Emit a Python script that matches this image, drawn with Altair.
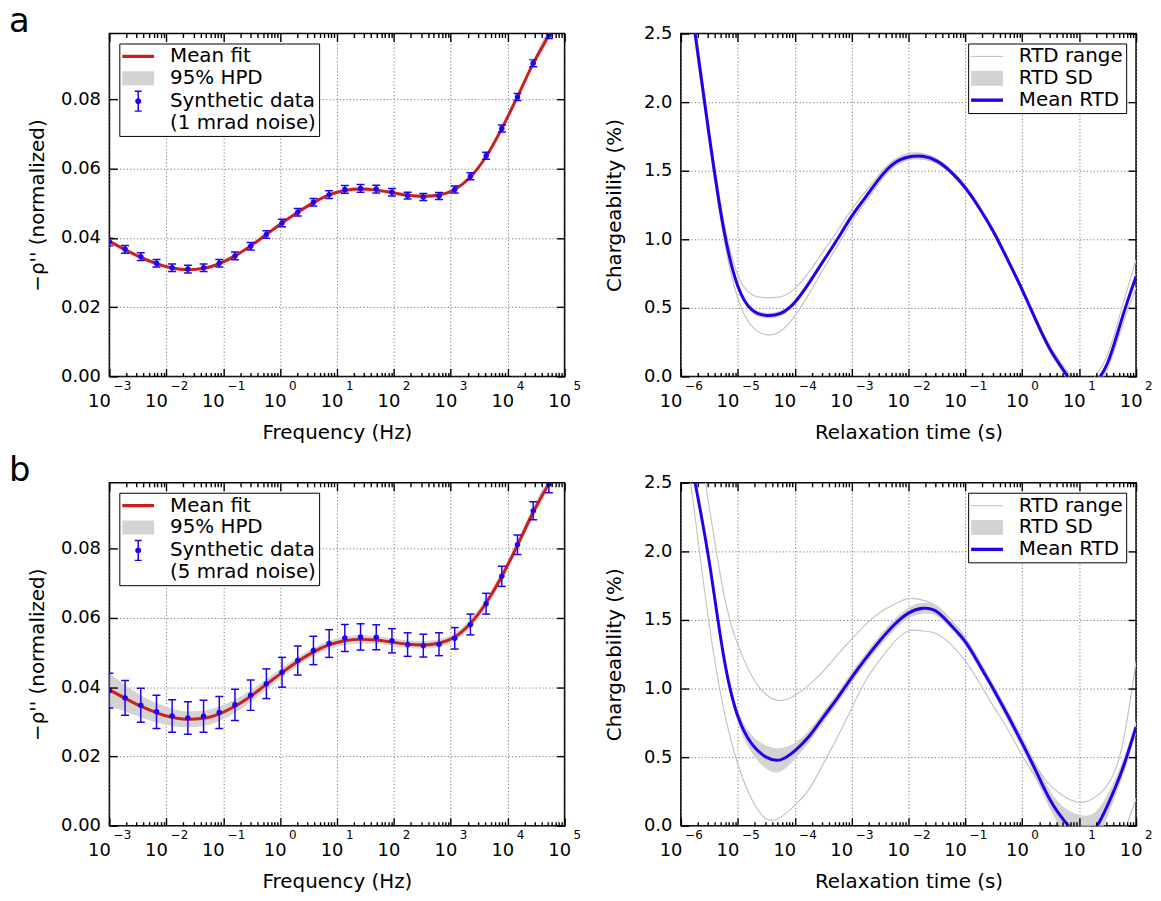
import altair as alt
import pandas as pd

FONT = "DejaVu Sans"
RED = "#cc2020"
BLUE = "#2200ee"
BAND = "#d3d3d3"
RGRAY = "#c4c4c4"

# ---------------- left panels: frequency domain ----------------
# log10 of the measurement frequencies (Hz)
freq_exp = [-3.000, -2.724, -2.448, -2.172, -1.897, -1.621, -1.345, -1.069, -0.793, -0.517,
            -0.241, 0.034, 0.310, 0.586, 0.862, 1.138, 1.414, 1.690, 1.966, 2.241,
            2.517, 2.793, 3.069, 3.345, 3.621, 3.897, 4.172, 4.448, 4.724]

data_a = [0.0388, 0.0367, 0.0346, 0.0327, 0.0314, 0.0310, 0.0314, 0.0327, 0.0348, 0.0376,
          0.0410, 0.0443, 0.0474, 0.0503, 0.0525, 0.0540, 0.0543, 0.0541, 0.0532, 0.0522,
          0.0518, 0.0521, 0.0540, 0.0578, 0.0637, 0.0716, 0.0807, 0.0904, 0.0986]
err_a = [0.0011, 0.0011, 0.0011, 0.0011, 0.0011, 0.0011, 0.0011, 0.0011, 0.0011, 0.0011,
         0.0011, 0.0011, 0.0011, 0.0011, 0.0011, 0.0011, 0.0011, 0.0011, 0.0011, 0.0010,
         0.0010, 0.0010, 0.0010, 0.0010, 0.0010, 0.0010, 0.0010, 0.0010, 0.0010]
# mean fit curve: same frequencies plus the point where it leaves the top of the axes
fit_exp_a = freq_exp + [4.737]
fit_a = [0.0390, 0.0366, 0.0344, 0.0326, 0.0313, 0.0308, 0.0312, 0.0326, 0.0348, 0.0377,
         0.0410, 0.0443, 0.0474, 0.0502, 0.0524, 0.0537, 0.0541, 0.0538, 0.0531, 0.0523,
         0.0520, 0.0524, 0.0540, 0.0576, 0.0635, 0.0716, 0.0808, 0.0904, 0.0986, 0.0990]
hpd_a = [0.0007, 0.0006, 0.0006, 0.0005, 0.0005, 0.0005, 0.0005, 0.0005, 0.0005, 0.0005,
         0.0005, 0.0005, 0.0005, 0.0005, 0.0005, 0.0005, 0.0005, 0.0005, 0.0005, 0.0005,
         0.0005, 0.0005, 0.0005, 0.0005, 0.0005, 0.0005, 0.0005, 0.0006, 0.0004, 0.0]

data_b = [0.0390, 0.0369, 0.0348, 0.0329, 0.0317, 0.0311, 0.0316, 0.0327, 0.0349, 0.0377,
          0.0410, 0.0443, 0.0477, 0.0506, 0.0526, 0.0542, 0.0545, 0.0544, 0.0534, 0.0523,
          0.0520, 0.0524, 0.0541, 0.0581, 0.0641, 0.0720, 0.0811, 0.0909, 0.0986]
err_b = [0.0050, 0.0050, 0.0049, 0.0048, 0.0047, 0.0047, 0.0046, 0.0046, 0.0045, 0.0044,
         0.0043, 0.0043, 0.0042, 0.0041, 0.0040, 0.0039, 0.0038, 0.0036, 0.0035, 0.0034,
         0.0033, 0.0033, 0.0031, 0.0030, 0.0030, 0.0029, 0.0028, 0.0026, 0.0025]
fit_exp_b = freq_exp + [4.735]
fit_b = [0.0392, 0.0368, 0.0345, 0.0326, 0.0313, 0.0307, 0.0310, 0.0323, 0.0345, 0.0374,
         0.0408, 0.0442, 0.0474, 0.0502, 0.0522, 0.0534, 0.0538, 0.0536, 0.0530, 0.0524,
         0.0522, 0.0527, 0.0545, 0.0584, 0.0643, 0.0720, 0.0810, 0.0905, 0.0987, 0.0990]
hpd_b = [0.0048, 0.0038, 0.0032, 0.0028, 0.0025, 0.0023, 0.0022, 0.0021, 0.0019, 0.0017,
         0.0015, 0.0014, 0.0013, 0.0012, 0.0012, 0.0012, 0.0012, 0.0011, 0.0011, 0.0011,
         0.0011, 0.0011, 0.0012, 0.0012, 0.0013, 0.0013, 0.0014, 0.0014, 0.0003, 0.0]

Y_TOP_LEFT = 0.099

# ---------------- right panels: relaxation time distribution ----------------
# log10 of relaxation time (s)
tau_exp = [-5.75, -5.5, -5.25, -5.0, -4.75, -4.5, -4.25, -4.0, -3.75, -3.5,
           -3.25, -3.0, -2.75, -2.5, -2.25, -2.0, -1.75, -1.5, -1.25, -1.0, -0.75,
           -0.5, -0.25, 0.0, 0.25, 0.5, 0.75, 1.0, 1.25, 1.5, 1.75, 2.0]

mean_a = [2.50, 1.75, 1.08, 0.66, 0.485, 0.445, 0.46, 0.54, 0.68, 0.84,
          1.00, 1.167, 1.31, 1.45, 1.555, 1.60, 1.605, 1.57, 1.49, 1.375, 1.225,
          1.05, 0.845, 0.63, 0.40, 0.19, 0.03, -0.10, -0.06, 0.10, 0.42, 0.73]
sd_a = [0.0, 0.02, 0.02, 0.02, 0.02, 0.02, 0.02, 0.02, 0.02, 0.02,
        0.02, 0.02, 0.02, 0.02, 0.02, 0.02, 0.02, 0.02, 0.02, 0.02, 0.02,
        0.02, 0.02, 0.02, 0.02, 0.02, 0.02, 0.02, 0.02, 0.02, 0.02, 0.02]
rhi_exp_a = [-5.73, -5.5, -5.25, -5.0, -4.75, -4.5, -4.25, -4.0, -3.75, -3.5,
             -3.25, -3.0, -2.75, -2.5, -2.25, -2.0, -1.75, -1.5, -1.25, -1.0, -0.75,
             -0.5, -0.25, 0.0, 0.25, 0.5, 0.75, 1.0, 1.25, 1.5, 1.75, 2.0]
rng_hi_a = [2.50, 1.80, 1.14, 0.74, 0.595, 0.575, 0.58, 0.64, 0.76, 0.91,
            1.06, 1.217, 1.35, 1.48, 1.58, 1.625, 1.625, 1.585, 1.505, 1.39, 1.24,
            1.065, 0.86, 0.645, 0.42, 0.21, 0.06, -0.06, -0.01, 0.16, 0.50, 0.85]
rlo_exp_a = [-5.77, -5.5, -5.25, -5.0, -4.75, -4.5, -4.25, -4.0, -3.75, -3.5,
             -3.25, -3.0, -2.75, -2.5, -2.25, -2.0, -1.75, -1.5, -1.25, -1.0, -0.75,
             -0.5, -0.25, 0.0, 0.25, 0.5, 0.75, 1.0, 1.25, 1.5, 1.75, 2.0]
rng_lo_a = [2.50, 1.70, 1.02, 0.57, 0.365, 0.305, 0.33, 0.44, 0.60, 0.78,
            0.95, 1.127, 1.275, 1.42, 1.53, 1.58, 1.585, 1.555, 1.475, 1.36, 1.21,
            1.035, 0.83, 0.615, 0.385, 0.17, 0.01, -0.13, -0.09, 0.06, 0.36, 0.65]

mean_b = [2.50, 1.92, 1.24, 0.80, 0.595, 0.50, 0.48, 0.545, 0.65, 0.79,
          0.93, 1.08, 1.22, 1.35, 1.465, 1.55, 1.585, 1.56, 1.46, 1.34, 1.17,
          0.99, 0.80, 0.60, 0.39, 0.18, 0.03, -0.07, -0.04, 0.15, 0.40, 0.72]
sd_b = [0.0, 0.03, 0.035, 0.045, 0.065, 0.085, 0.085, 0.06, 0.045, 0.04,
        0.04, 0.04, 0.04, 0.04, 0.04, 0.04, 0.04, 0.035, 0.03, 0.03, 0.03,
        0.035, 0.04, 0.045, 0.055, 0.07, 0.10, 0.15, 0.13, 0.08, 0.06, 0.05]
rhi_exp_b = [-5.57, -5.5, -5.25, -5.0, -4.75, -4.5, -4.25, -4.0, -3.75, -3.5,
             -3.25, -3.0, -2.75, -2.5, -2.25, -2.0, -1.75, -1.5, -1.25, -1.0, -0.75,
             -0.5, -0.25, 0.0, 0.25, 0.5, 0.75, 1.0, 1.25, 1.5, 1.75, 2.0]
rng_hi_b = [2.50, 2.32, 1.70, 1.32, 1.09, 0.955, 0.913, 0.95, 1.025, 1.125,
            1.245, 1.36, 1.47, 1.555, 1.615, 1.655, 1.645, 1.60, 1.50, 1.37, 1.20,
            1.01, 0.80, 0.60, 0.43, 0.29, 0.21, 0.17, 0.20, 0.30, 0.57, 1.20]
rlo_exp_b = [-5.83, -5.75, -5.5, -5.25, -5.0, -4.75, -4.5, -4.25, -4.0, -3.75, -3.5,
             -3.25, -3.0, -2.75, -2.5, -2.25, -2.0, -1.75, -1.5, -1.25, -1.0, -0.75,
             -0.5, -0.25, 0.0, 0.25, 0.5, 0.75, 1.0, 1.25, 1.5, 1.75, 2.0]
rng_lo_b = [2.50, 2.25, 1.46, 0.855, 0.45, 0.19, 0.05, 0.06, 0.148, 0.265, 0.45,
            0.645, 0.855, 1.06, 1.21, 1.34, 1.42, 1.42, 1.40, 1.32, 1.20, 1.04,
            0.865, 0.70, 0.51, 0.34, 0.165, 0.0, -0.13, -0.20, -0.17, -0.07, 0.20]

left_labels = ["Mean fit", "95% HPD", "Synthetic data"]
right_labels = ["RTD range", "RTD SD", "Mean RTD"]


def rect_path(hw, hh):
    return "M%g,%gL%g,%gL%g,%gL%g,%gZ" % (-hw, -hh, hw, -hh, hw, hh, -hw, hh)


# legend glyphs (symbol unit = 10 px)
FIT_PATH = rect_path(1.6, 0.16)
HPD_PATH = rect_path(1.6, 0.7)
ERR_PATH = (rect_path(0.075, 1.0) + "M-0.35,-1.07L0.35,-1.07L0.35,-0.93L-0.35,-0.93Z"
            "M-0.35,0.93L0.35,0.93L0.35,1.07L-0.35,1.07Z"
            "M0.3,0A0.3,0.3,0,1,1,-0.3,0A0.3,0.3,0,1,1,0.3,0Z")
RANGE_PATH = rect_path(1.6, 0.055)
SD_PATH = rect_path(1.6, 0.75)
MEAN_PATH = rect_path(1.6, 0.17)

W, H = 458, 345


def decades(lo, hi):
    return [10.0 ** e for e in range(lo, hi + 1)]


def minors(lo, hi):
    return [m * 10.0 ** e for e in range(lo, hi) for m in range(2, 10)]


GRID = dict(grid=True, gridColor="#7a7a7a", gridDash=[1.2, 2.2], gridWidth=1)
NEG = "datum.value < 0.5"


def x_label_axis(vals, title):
    return alt.Axis(orient="bottom", values=vals, labelExpr="'10'", labelFont=FONT,
                    labelFontSize=18, labelColor="black", labelPadding=16,
                    labelAlign="right", labelBaseline="top",
                    labelOffset={"condition": {"test": NEG, "value": 1}, "value": 6},
                    labelFlush=False, labelOverlap=False, ticks=False, tickSize=0,
                    domain=False, title=title, titleFont=FONT, titleFontSize=20,
                    titleFontWeight="normal", titleColor="black", titlePadding=12, **GRID)


def x_exp_axis(vals):
    return alt.Axis(orient="bottom", values=vals,
                    labelExpr="replace(format(round(log(datum.value)/LN10), 'd'), '-', '\u2212')",
                    labelFont=FONT, labelFontSize=12, labelColor="black", labelPadding=4,
                    labelAlign="left", labelBaseline="top",
                    labelOffset={"condition": {"test": NEG, "value": 4}, "value": 8.5},
                    labelFlush=False, labelOverlap=False, ticks=False, tickSize=0,
                    domain=False, grid=False, title=None)


def y_label_axis(vals, fmt, title, tpad):
    return alt.Axis(orient="left", values=vals, format=fmt, labelFont=FONT,
                    labelFontSize=18, labelColor="black", labelPadding=9, ticks=False,
                    tickSize=0, domain=False, title=title, titleFont=FONT,
                    titleFontSize=20, titleFontWeight="normal", titleColor="black",
                    titlePadding=tpad, **GRID)


def tick_axis(orient, vals, size):
    return alt.Axis(orient=orient, values=vals, labels=False, domain=False, grid=False,
                    ticks=True, tickSize=size, tickWidth=1.4, tickColor="black",
                    offset=-size, title=None, zindex=1, minExtent=0, maxExtent=0)


def legend(label_expr, orient):
    return alt.Legend(orient=orient, offset=10, title=None, strokeColor="black",
                      fillColor="white", padding=3, cornerRadius=0, labelFont=FONT,
                      labelFontSize=20, labelColor="black", labelLimit=400,
                      symbolSize=400, symbolStrokeWidth=0, symbolOffset=6,
                      labelOffset=22, rowPadding=2, labelExpr=label_expr)


def left_panel(data, err, fit_exp, fit, hpd, noise, letter):
    pts_df = pd.DataFrame({
        "f": [10.0 ** e for e in freq_exp], "d": data,
        "elo": [v - e for v, e in zip(data, err)], "ehi": [v + e for v, e in zip(data, err)],
    })
    fit_df = pd.DataFrame({
        "f": [10.0 ** e for e in fit_exp], "fit": fit,
        "lo": [v - h for v, h in zip(fit, hpd)], "hi": [v + h for v, h in zip(fit, hpd)],
    })
    xs = alt.Scale(type="log", domain=[1e-3, 1e5], nice=False)
    ys = alt.Scale(domain=[0, Y_TOP_LEFT], nice=False, zero=False)
    dec, mino = decades(-3, 5), minors(-3, 5)
    yv = [0, 0.02, 0.04, 0.06, 0.08]
    pbase = alt.Chart(pts_df).transform_calculate(
        ehc="min(datum.ehi, %g)" % Y_TOP_LEFT)

    band = alt.Chart(fit_df).mark_area(color=BAND, clip=True, opacity=1,
                                       interpolate="monotone").encode(
        x=alt.X("f:Q", scale=xs, axis=x_label_axis(dec, "Frequency (Hz)")),
        y=alt.Y("lo:Q", scale=ys,
                axis=y_label_axis(yv, ".2f", "\u2212\u03c1'' (normalized)", 13)),
        y2="hi:Q")
    line = alt.Chart(fit_df).mark_line(color=RED, strokeWidth=3, clip=True,
                                       interpolate="monotone").encode(
        x=alt.X("f:Q", scale=xs, axis=x_exp_axis(dec)),
        y=alt.Y("fit:Q", scale=ys, axis=tick_axis("left", yv, 8)))
    bars = pbase.mark_rule(color=BLUE, strokeWidth=1.5, clip=True).encode(
        x=alt.X("f:Q", scale=xs, axis=tick_axis("bottom", dec, 8)),
        y=alt.Y("elo:Q", scale=ys, axis=tick_axis("right", yv, 8)),
        y2="ehc:Q")
    cap_lo = pbase.mark_tick(color=BLUE, orient="horizontal", size=8, thickness=1.5,
                             clip=True, opacity=1).encode(
        x=alt.X("f:Q", scale=xs, axis=tick_axis("bottom", mino, 4)),
        y=alt.Y("elo:Q", scale=ys, axis=None))
    cap_hi = pbase.transform_filter("datum.ehi <= %g" % Y_TOP_LEFT).mark_tick(
        color=BLUE, orient="horizontal", size=8, thickness=1.5, clip=True,
        opacity=1).encode(
        x=alt.X("f:Q", scale=xs, axis=tick_axis("top", dec, 8)),
        y=alt.Y("ehi:Q", scale=ys, axis=None))
    pts = pbase.mark_circle(color=BLUE, size=30, opacity=1, clip=True).encode(
        x=alt.X("f:Q", scale=xs, axis=tick_axis("top", mino, 4)),
        y=alt.Y("d:Q", scale=ys, axis=None))

    ldf = pd.DataFrame({"f": [1e-9] * 3, "d": [0.05] * 3, "lab": left_labels})
    expr = ("datum.label == 'Synthetic data' ? ['Synthetic data', '(%s)'] : datum.label"
            % noise)
    lg = legend(expr, "top-left")
    leg = alt.Chart(ldf).mark_point(clip=True, opacity=1, filled=True).encode(
        x=alt.X("f:Q", scale=xs, axis=None),
        y=alt.Y("d:Q", scale=ys, axis=None),
        color=alt.Color("lab:N", scale=alt.Scale(domain=left_labels, range=[RED, BAND, BLUE]),
                        legend=lg),
        shape=alt.Shape("lab:N", scale=alt.Scale(domain=left_labels,
                                                 range=[FIT_PATH, HPD_PATH, ERR_PATH]),
                        legend=lg))

    ch = alt.layer(band, line, bars, cap_lo, cap_hi, pts, leg).resolve_axis(
        x="independent", y="independent").properties(
        width=W, height=H,
        title=alt.TitleParams(letter, anchor="start", frame="group", font=FONT, fontSize=34,
                              fontWeight="normal", color="black", dx=-101, offset=-6))
    return ch


def right_panel(mean, sd, rhi_exp, rhi, rlo_exp, rlo):
    mdf = pd.DataFrame({
        "t": [10.0 ** e for e in tau_exp], "m": mean,
        "slo": [v - s for v, s in zip(mean, sd)], "shi": [v + s for v, s in zip(mean, sd)],
    })
    hdf = pd.DataFrame({"t": [10.0 ** e for e in rhi_exp], "r": rhi})
    ldf_ = pd.DataFrame({"t": [10.0 ** e for e in rlo_exp], "r": rlo})
    xs = alt.Scale(type="log", domain=[1e-6, 1e2], nice=False)
    ys = alt.Scale(domain=[0, 2.5], nice=False, zero=False)
    dec, mino = decades(-6, 2), minors(-6, 2)
    yv = [0, 0.5, 1.0, 1.5, 2.0, 2.5]

    band = alt.Chart(mdf).mark_area(color=BAND, clip=True, opacity=1,
                                    interpolate="natural").encode(
        x=alt.X("t:Q", scale=xs, axis=x_label_axis(dec, "Relaxation time (s)")),
        y=alt.Y("slo:Q", scale=ys, axis=y_label_axis(yv, ".1f", "Chargeability (%)", 19)),
        y2="shi:Q")
    up = alt.Chart(hdf).mark_line(color=RGRAY, strokeWidth=1.2, clip=True,
                                  interpolate="natural").encode(
        x=alt.X("t:Q", scale=xs, axis=x_exp_axis(dec)),
        y=alt.Y("r:Q", scale=ys, axis=tick_axis("left", yv, 8)))
    lo = alt.Chart(ldf_).mark_line(color=RGRAY, strokeWidth=1.2, clip=True,
                                   interpolate="natural").encode(
        x=alt.X("t:Q", scale=xs, axis=tick_axis("bottom", dec, 8)),
        y=alt.Y("r:Q", scale=ys, axis=tick_axis("right", yv, 8)))
    mn = alt.Chart(mdf).mark_line(color=BLUE, strokeWidth=3, clip=True,
                                  interpolate="natural").encode(
        x=alt.X("t:Q", scale=xs, axis=tick_axis("bottom", mino, 4)),
        y=alt.Y("m:Q", scale=ys, axis=None))

    gdf = pd.DataFrame({"t": [1e-12] * 3, "m": [1.0] * 3, "lab": right_labels})
    lg = legend("datum.label", "top-right")
    leg = alt.Chart(gdf).mark_point(clip=True, opacity=1, filled=True).encode(
        x=alt.X("t:Q", scale=xs, axis=tick_axis("top", dec, 8)),
        y=alt.Y("m:Q", scale=ys, axis=None),
        color=alt.Color("lab:N", scale=alt.Scale(domain=right_labels,
                                                 range=[RGRAY, BAND, BLUE]), legend=lg),
        shape=alt.Shape("lab:N", scale=alt.Scale(domain=right_labels,
                                                 range=[RANGE_PATH, SD_PATH, MEAN_PATH]),
                        legend=lg))
    leg2 = alt.Chart(gdf).mark_point(clip=True, opacity=0).encode(
        x=alt.X("t:Q", scale=xs, axis=tick_axis("top", mino, 4)),
        y=alt.Y("m:Q", scale=ys, axis=None))

    ch = alt.layer(band, up, lo, mn, leg, leg2).resolve_axis(
        x="independent", y="independent").properties(width=W, height=H)
    return ch


pa = left_panel(data_a, err_a, fit_exp_a, fit_a, hpd_a, "1 mrad noise", "a")
ra = right_panel(mean_a, sd_a, rhi_exp_a, rng_hi_a, rlo_exp_a, rng_lo_a)
pb = left_panel(data_b, err_b, fit_exp_b, fit_b, hpd_b, "5 mrad noise", "b")
rb = right_panel(mean_b, sd_b, rhi_exp_b, rng_hi_b, rlo_exp_b, rng_lo_b)

chart = alt.concat(pa, ra, pb, rb, columns=2, spacing={"row": 107, "column": 117},
                   bounds="flush").resolve_scale(
    color="independent", shape="independent").configure_view(
    stroke="black", strokeWidth=1.6).properties(
    padding={"left": 0, "top": -7, "right": 0, "bottom": 0})

chart.save("out.html", embed_options={"renderer": "svg", "actions": False})
